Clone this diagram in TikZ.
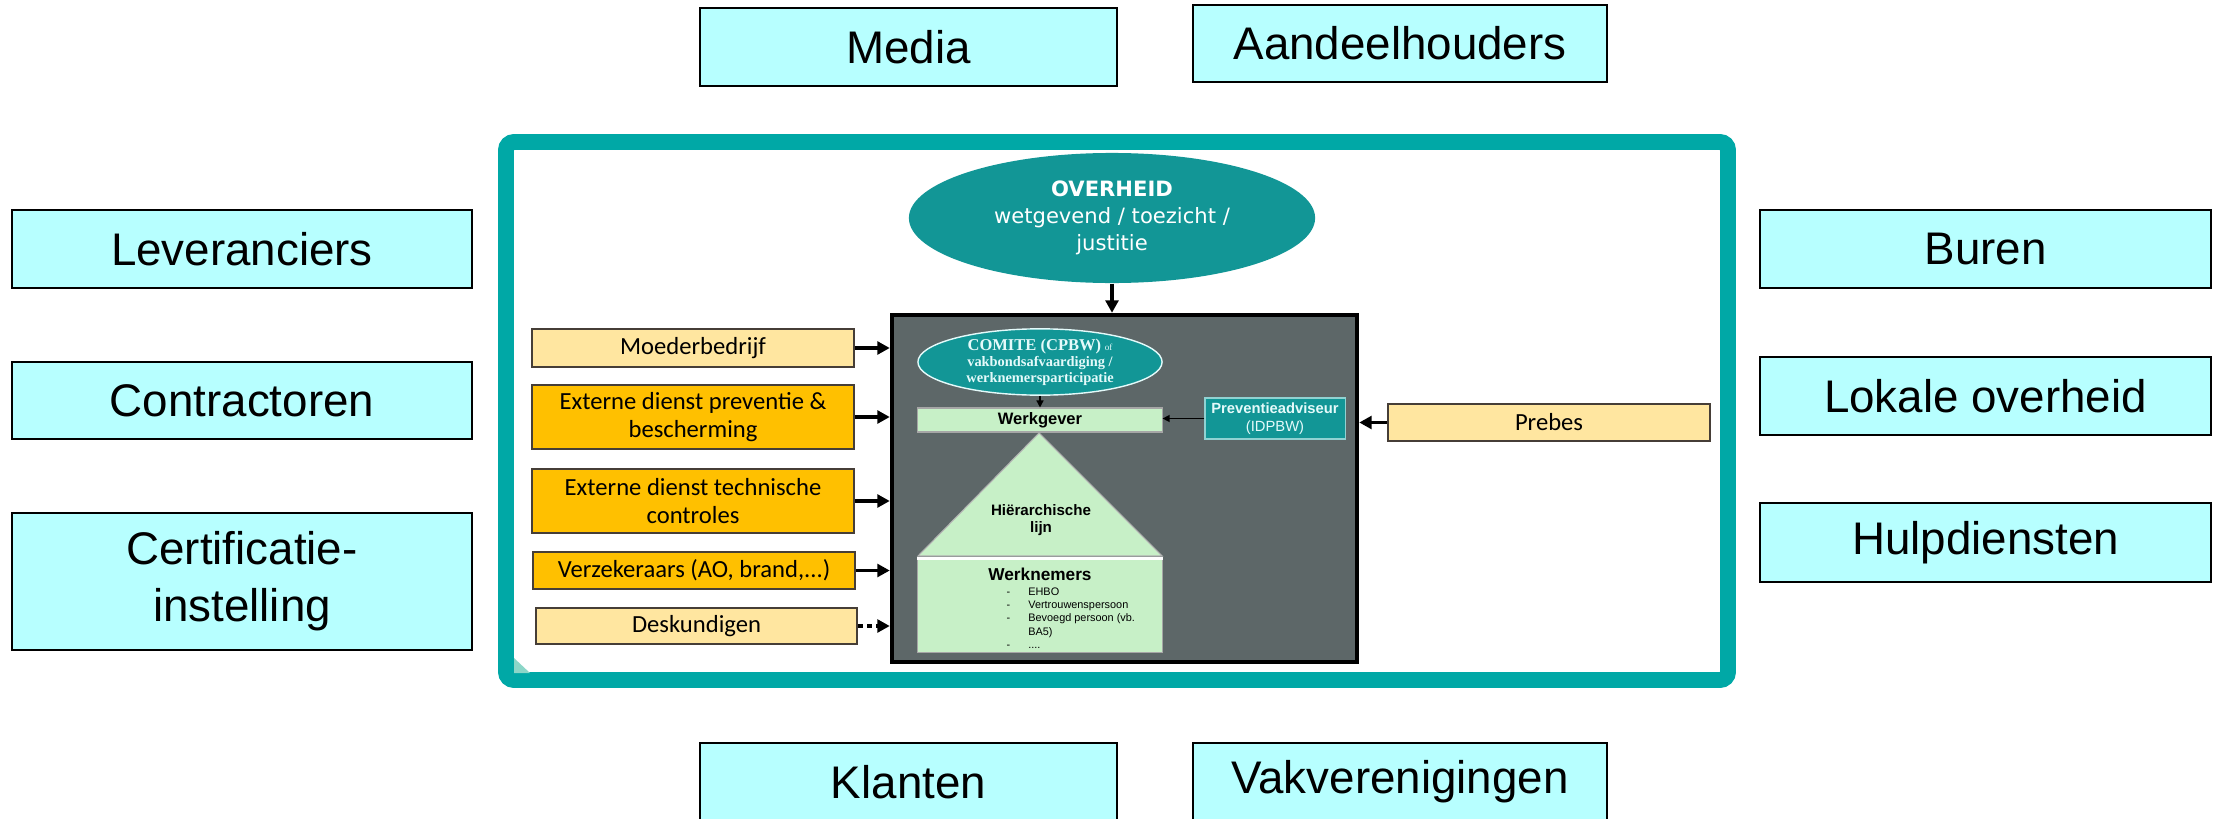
\documentclass[tikz,border=0pt]{standalone}
\usepackage{fontspec}
\setmainfont{Liberation Sans}
\newfontfamily\calfont{Carlito}
\newfontfamily\verfont{DejaVu Sans}
\newfontfamily\serfont{Liberation Serif}
\usetikzlibrary{positioning, shapes.geometric, arrows.meta}
\definecolor{partycyan}{RGB}{183,255,255}
\definecolor{frameteal}{RGB}{0,168,166}
\definecolor{govteal}{RGB}{18,150,150}
\definecolor{paletext}{RGB}{228,250,250}
\definecolor{paleyellow}{RGB}{255,230,160}
\definecolor{amber}{RGB}{255,192,0}
\definecolor{slate}{RGB}{93,103,104}
\definecolor{mint}{RGB}{199,240,199}
\definecolor{cornerteal}{RGB}{140,214,200}
\definecolor{boxedge}{RGB}{70,62,55}
\begin{document}
\begin{tikzpicture}[x = 0.01cm, y = -0.01cm,
    party/.style = {draw, line width = 0.7pt, fill = partycyan, align = center, inner sep = 0pt, font = \fontsize{13}{16.2}\selectfont},
    source/.style = {draw = boxedge, line width = 0.5pt, align = center, inner sep = 0pt, minimum width = 3.22cm, font = \calfont\fontsize{7}{8}\selectfont},
    leaf/.style = {draw = gray!70, line width = 0.3pt, fill = mint, inner sep = 0pt, minimum width = 2.44cm},
    flow/.style = {line width = 1pt, -{Triangle[length = 3.5pt, width = 3.6pt]}},
    thin flow/.style = {line width = 0.4pt, -{Triangle[length = 2pt, width = 2pt]}}]
  \useasboundingbox (0, 0) rectangle (2236, 818);
  \foreach \name/\x/\y/\w/\h/\txt in {media/908.5/47/4.17/0.78/Media, aandeel/1400/43.5/4.14/0.77/Aandeelhouders, klanten/908.5/782/4.17/0.78/Klanten, vakver/1400/782/4.14/0.78/Vakverenigingen, lever/242/249/4.60/0.78/Leveranciers, contract/242/400.5/4.60/0.77/Contractoren, certif/242/581.5/4.60/1.37/{Certificatie-\\instelling}, buren/1985.5/249/4.51/0.78/Buren, lokaal/1985.5/396/4.51/0.78/Lokale overheid, hulp/1985.5/542.5/4.51/0.79/Hulpdiensten}{
    \node [party, minimum width = \w cm, minimum height = \h cm] (\name) at (\x, \y) {\txt};
  }
  \draw [frameteal, line width = 4.5pt, rounded corners = 0.08cm] (506, 142) rectangle (1728, 680);
  \fill [cornerteal] (514, 673) -- (514, 658) -- (530, 673) -- cycle;
  \node [draw, line width = 1.2pt, fill = slate, minimum width = 4.65cm, minimum height = 3.47cm, inner sep = 0pt] (werkplek) at (1124.5, 488.5) {};
  \node [ellipse, fill = govteal, minimum width = 4.06cm, minimum height = 1.30cm, inner sep = 0pt, align = center, text = white, font = \verfont\fontsize{6}{7.6}\selectfont] (overheid) at (1112, 218) {{\bfseries OVERHEID}\\wetgevend / toezicht /\\justitie};
  \node [ellipse, draw = paletext, line width = 0.4pt, fill = govteal, minimum width = 2.44cm, minimum height = 0.61cm, inner sep = 0pt, align = center, text = paletext, font = \serfont\bfseries\fontsize{4.1}{4.6}\selectfont] (comite) at (1040, 362) {{\fontsize{4.7}{5}\selectfont COMITE (CPBW)} {\mdseries\fontsize{2.6}{3}\selectfont of}\\vakbondsafvaardiging /\\werknemersparticipatie};
  \node [leaf, minimum height = 0.24cm, font = \bfseries\fontsize{4.7}{5}\selectfont] (werkgever) at (1040, 420) {Werkgever};
  \node [fill = govteal, draw = paletext!60!govteal, line width = 0.3pt, minimum width = 1.40cm, minimum height = 0.41cm, inner sep = 0pt, align = center, text = paletext, font = \fontsize{4.2}{5}\selectfont] (preventie) at (1275, 418.5) {\textbf{Preventieadviseur}\\(IDPBW)};
  \filldraw [fill = mint, draw = gray!60, line width = 0.3pt] (1039, 433) -- (1162, 556) -- (918, 556) -- cycle;
  \node [align = center, inner sep = 0pt, font = \bfseries\fontsize{4.3}{4.8}\selectfont] (lijn) at (1041, 520) {Hiërarchische\\lijn};
  \node [leaf, minimum height = 0.93cm] (werknemers) at (1040, 605.5) {};
  \draw [white, line width = 0.7pt] (werknemers.north west) -- (werknemers.north east);
  \node [below = 0.09cm of werknemers.north, inner sep = 0pt, font = \bfseries\fontsize{4.9}{5}\selectfont] (wntitel) {Werknemers};
  \node [anchor = north west, inner sep = 0pt, font = \fontsize{3.1}{3.8}\selectfont] (wnlijst) at (1006, 585) {\begin{tabular}{@{}l@{\hspace{0.18cm}}l@{}}
      - & EHBO\\
      - & Vertrouwenspersoon\\
      - & Bevoegd persoon (vb.\\
        & BA5)\\
      - & ....
    \end{tabular}};
  \node [source, fill = paleyellow, minimum height = 0.38cm] (moeder) at (693, 348) {Moederbedrijf};
  \node [source, fill = amber, minimum height = 0.64cm] (edpb) at (693, 417) {Externe dienst preventie \&\\bescherming};
  \node [source, fill = amber, minimum height = 0.64cm] (edtc) at (693, 501) {Externe dienst technische\\controles};
  \node [source, fill = amber, minimum height = 0.37cm] (verzek) at (694, 570.5) {Verzekeraars (AO, brand,...)};
  \node [source, fill = paleyellow, minimum height = 0.36cm, minimum width = 3.21cm] (deskundig) at (696.5, 626) {Deskundigen};
  \node [source, fill = paleyellow, minimum height = 0.37cm] (prebes) at (1549, 422.5) {Prebes};
  \foreach \src in {moeder, edpb, edtc, verzek}{
    \draw [flow] (\src.east) -- (\src.east -| werkplek.west);
  }
  \draw [flow, dash pattern = on 1.3pt off 1.3pt] (deskundig.east) -- (deskundig.east -| werkplek.west);
  \draw [flow] (prebes.west) -- (prebes.west -| werkplek.east);
  \draw [flow] (overheid.south) -- (overheid.south |- werkplek.north);
  \draw [thin flow] (comite.south) -- (werkgever.north);
  \draw [thin flow] (preventie.west) -- (preventie.west -| werkgever.east);
\end{tikzpicture}
\end{document}
